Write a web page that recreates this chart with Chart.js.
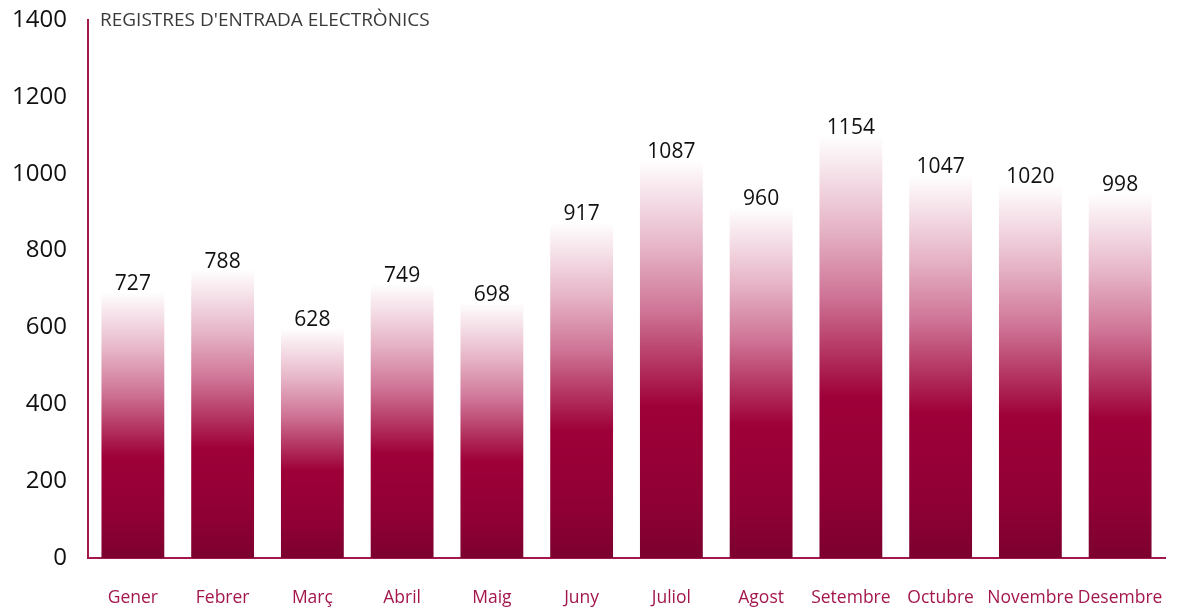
<!DOCTYPE html>
<html>
<head>
<meta charset="utf-8">
<script src="https://cdn.jsdelivr.net/npm/chart.js@4/dist/chart.umd.min.js"></script>
<style>
  body { margin: 0; background: #fff; }
</style>
</head>
<body>
<canvas id="registres" width="1184" height="610"></canvas>
<script>
// Dades
const mesos = ["Gener", "Febrer", "Març", "Abril", "Maig", "Juny", "Juliol", "Agost", "Setembre", "Octubre", "Novembre", "Desembre"];
const registres = [727, 788, 628, 749, 698, 917, 1087, 960, 1154, 1047, 1020, 998];
const ticksY = [0, 200, 400, 600, 800, 1000, 1200, 1400];
const titol = "REGISTRES D'ENTRADA ELECTRÒNICS";

const granat = "#a3174d";
const font = "'Open Sans', 'Noto Sans', sans-serif";

// degradat de cada barra: fosc a baix, blanc a dalt
function degradat(context) {
    const chart = context.chart;
    if (!chart.chartArea) return "#9b0036";
    const escala = chart.scales.yb;
    const base = escala.getPixelForValue(0);
    const dalt = escala.getPixelForValue(context.raw);
    const g = chart.ctx.createLinearGradient(0, base, 0, dalt);
    g.addColorStop(0, "#7c002f");
    g.addColorStop(0.15, "#900034");
    g.addColorStop(0.38, "#9e0038");
    g.addColorStop(0.5, "#b63a66");
    g.addColorStop(0.62, "#cf7496");
    g.addColorStop(0.78, "#e6b4c6");
    g.addColorStop(0.9, "#f4dde6");
    g.addColorStop(1, "#ffffff");
    return g;
}

const etiquetes = {
    id: "etiquetes",
    afterDatasetsDraw(chart) {
        const ctx = chart.ctx;
        const meta = chart.getDatasetMeta(0);
        ctx.save();
        ctx.font = "21px " + font;
        ctx.fillStyle = "#111";
        ctx.textAlign = "center";
        ctx.textBaseline = "middle";
        meta.data.forEach((barra, i) => {
            ctx.fillText(registres[i], barra.x, barra.y - 8);
        });
        // títol
        ctx.font = "19px " + font;
        ctx.fillStyle = "#3a3a3a";
        ctx.textAlign = "left";
        ctx.fillText(titol, chart.chartArea.left + 12, 21);
        ctx.restore();
    }
};

new Chart(document.getElementById("registres"), {
    type: "bar",
    data: {
        labels: mesos,
        datasets: [{
            data: registres,
            yAxisID: "yb",
            backgroundColor: degradat,
            borderWidth: 0,
            barPercentage: 0.7,
            categoryPercentage: 1
        }]
    },
    options: {
        responsive: false,
        animation: false,
        layout: { padding: { top: 20, right: 19, left: 0, bottom: 0 } },
        plugins: {
            legend: { display: false },
            tooltip: { enabled: false }
        },
        scales: {
            x: {
                grid: { display: false, drawTicks: false },
                border: { display: true, color: granat, width: 2 },
                ticks: { color: granat, font: { family: font, size: 17.5 }, padding: 30, maxRotation: 0, autoSkip: false },
                afterFit: (s) => {
                    s.height = 52;
                    s.paddingLeft = 0;
                    s.paddingRight = 0;
                }
            },
            y: {
                min: 0,
                max: 1400,
                afterBuildTicks: (s) => { s.ticks = ticksY.map(v => ({ value: v })); },
                grid: { display: false, drawTicks: false },
                border: { display: true, color: granat, width: 2 },
                ticks: { color: "#111", font: { family: font, size: 24 }, padding: 21, callback: (v) => String(v) },
                afterFit: (s) => {
                    s.width = 88;
                    s.paddingTop = 0;
                    s.paddingBottom = 0;
                }
            },
            yb: {
                display: false,
                min: 0,
                max: 1470
            }
        }
    },
    plugins: [etiquetes]
});
</script>
</body>
</html>
